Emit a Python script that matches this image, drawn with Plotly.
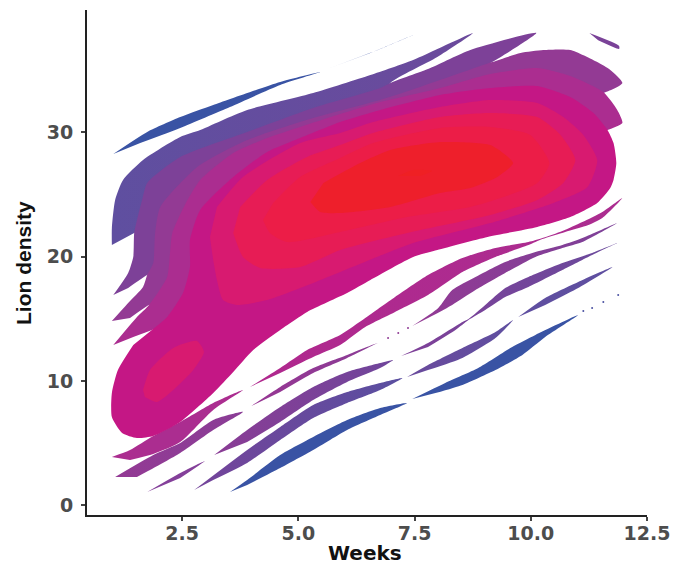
import plotly.graph_objects as go

# Filled density bands: (weeks, lion density) outlines
band_a = [(0.99,20.94),(0.99,22.31),(1.06,24.56),(1.23,26.17),(1.66,27.78),(2.46,29.63),(2.89,30.19),(3.38,31.0),(3.90,31.8),(5.32,33.16),(6.55,34.61),(7.47,35.82),(8.76,37.99),(7.99,36.06),(6.98,33.97),(6.76,32.6),(5.32,31.0),(3.90,28.98),(2.82,26.73),(2.03,24.0),(1.81,22.55),(1.47,21.91)]
band_b = [(1.02,16.92),(1.34,18.69),(1.45,19.98),(1.47,21.91),(1.53,22.95),(1.64,24.56),(1.75,25.93),(2.46,28.02),(3.90,30.03),(5.32,31.96),(6.76,33.56),(6.98,33.97),(7.84,35.17),(8.70,36.62),(10.12,37.99),(9.17,35.65),(8.05,33.56),(6.61,32.28),(5.04,30.43),(3.60,28.34),(2.89,26.17),(2.29,21.91),(2.24,20.3),(2.03,18.93),(1.75,18.53),(1.34,17.49)]
band_c = [(0.99,14.83),(1.34,16.28),(1.66,17.57),(1.75,18.53),(1.88,19.49),(1.92,21.91),(2.03,24.0),(2.82,27.2),(3.90,29.38),(5.32,31.15),(6.76,32.6),(7.62,33.65),(9.17,35.65),(9.78,36.38),(10.27,36.62),(10.85,36.62),(11.43,35.65),(11.71,35.01),(11.97,33.97),(11.56,33.16),(10.85,32.84),(10.14,33.73),(9.13,33.56),(8.05,33.0),(6.61,31.64),(5.04,29.54),(3.60,26.41),(2.89,23.76),(2.67,21.34),(2.67,19.17),(2.18,16.52),(1.79,16.12),(1.38,15.07)]
band_d = [(1.02,12.9),(1.53,15.15),(1.79,16.12),(2.18,18.37),(2.24,20.3),(2.29,21.91),(2.56,24.16),(2.89,26.17),(3.60,28.34),(4.33,29.54),(5.04,30.43),(5.90,31.47),(6.61,32.28),(8.05,33.56),(9.13,34.69),(10.14,35.17),(10.85,34.53),(11.56,33.24),(11.86,31.8),(11.97,30.75),(11.65,30.19),(11.13,29.79),(10.70,31.23),(10.14,32.36),(9.13,32.6),(8.05,32.04),(6.61,30.83),(5.04,29.14),(3.81,26.41),(3.25,24.0),(3.10,21.59),(3.17,19.74),(2.89,16.52),(2.18,14.51),(1.85,14.11),(1.45,13.54)]
band_e = [(1.85,14.11),(2.18,15.15),(2.52,17.08),(2.67,19.17),(2.67,21.34),(2.89,23.76),(3.60,26.41),(4.33,28.42),(5.04,29.54),(5.90,30.83),(6.61,31.64),(8.05,33.0),(9.13,33.56),(10.14,33.73),(10.85,32.84),(11.35,31.55),(11.65,30.19),(11.78,29.14),(11.84,27.53),(11.78,26.17),(11.71,25.52),(11.43,24.32),(10.85,23.19),(10.14,22.39),(9.07,21.59),(7.99,20.54),(7.47,19.98),(6.55,18.13),(6.05,17.08),(5.19,15.56),(4.55,13.95),(4.03,12.5),(3.60,10.73),(3.17,9.04),(2.46,6.71),(1.88,5.59),(1.53,5.42),(1.21,5.83),(0.99,7.11),(0.99,9.04),(1.12,10.89),(1.45,12.9)]
band_f = [(3.10,21.59),(3.17,19.74),(3.25,18.13),(3.38,16.52),(3.68,16.12),(4.33,16.52),(5.32,17.89),(5.90,18.77),(7.47,21.1),(9.13,22.71),(10.49,24.32),(11.22,25.6),(11.43,27.78),(11.13,29.79),(10.70,31.23),(10.14,32.36),(9.13,32.6),(8.05,32.04),(6.61,30.83),(5.90,29.95),(5.04,29.14),(3.81,26.41),(3.25,24.0)]
lobe_f = [(1.66,9.28),(1.81,10.89),(2.31,12.66),(2.82,13.22),(2.97,12.34),(2.74,10.89),(2.31,9.28),(1.96,8.32),(1.70,8.72)]
band_g = [(3.60,21.91),(3.81,19.98),(4.18,19.09),(5.04,19.17),(5.90,20.54),(7.34,21.91),(9.13,23.35),(10.14,24.56),(10.70,25.93),(10.96,27.78),(10.64,29.79),(10.14,31.23),(9.13,31.55),(8.05,31.23),(6.61,29.95),(5.90,28.98),(5.19,28.02),(4.33,26.17),(3.75,24.0)]
band_h = [(4.24,22.95),(4.39,21.91),(4.76,21.18),(5.90,21.99),(7.34,23.19),(8.70,24.0),(9.41,24.8),(10.14,25.93),(10.40,27.53),(9.99,29.79),(9.13,30.43),(8.05,30.35),(6.61,29.14),(5.90,27.94),(5.04,26.41),(4.46,24.32)]
band_i = [(5.26,24.4),(5.47,23.6),(5.90,23.51),(6.98,24.0),(8.05,25.12),(8.70,25.52),(9.28,26.41),(9.62,27.53),(9.13,28.98),(8.05,29.22),(6.98,28.58),(6.33,27.53),(5.54,25.93)]
core = [(7.15,26.49),(7.47,26.97),(7.88,26.89),(7.62,26.49)]

stripe_1a = [(0.99,3.90),(1.38,4.46),(1.88,5.59),(2.46,6.71),(3.17,8.24),(3.81,9.28),(3.17,7.68),(2.46,5.10),(1.88,4.14),(1.38,3.66)]
stripe_1b = [(3.96,9.53),(4.61,11.05),(5.19,12.5),(5.90,13.71),(6.44,15.07),(7.08,16.76),(7.79,18.53),(8.53,19.9),(9.24,20.7),(9.95,21.18),(10.25,21.5),(10.68,22.07),(11.11,22.79),(11.54,23.6),(11.97,24.72),(11.54,23.11),(11.24,22.55),(10.74,21.99),(10.25,21.42),(9.95,20.94),(9.24,19.98),(8.53,18.77),(7.79,16.92),(7.08,15.56),(6.44,14.35),(5.90,12.9),(5.32,11.94),(4.61,10.65)]
stripe_2a = [(1.06,2.29),(1.88,4.06),(2.46,5.02),(3.17,6.87),(3.81,7.52),(3.17,6.07),(2.46,4.22),(1.81,2.85),(1.53,2.29)]
stripe_2b = [(3.99,8.0),(4.61,9.53),(5.32,11.05),(6.05,12.1),(6.70,13.06),(6.05,11.86),(5.32,10.65),(4.61,9.12)]
stripe_2c = [(7.45,14.43),(8.01,15.88),(8.31,17.32),(8.81,18.37),(9.45,19.58),(10.10,20.38),(10.68,20.94),(11.11,21.5),(11.86,22.71),(11.11,21.18),(10.68,20.7),(10.10,19.98),(9.45,18.69),(8.81,17.32),(8.31,16.12),(7.79,15.07)]
stripe_3a = [(1.75,1.08),(2.46,2.61),(2.99,3.58),(2.46,2.21)]
stripe_3b = [(3.19,4.06),(3.90,6.07),(4.61,7.92),(5.32,9.53),(6.05,10.73),(6.76,11.45),(7.04,11.7),(6.76,11.05),(6.05,9.93),(5.32,8.48),(4.61,6.71),(3.90,5.1)]
stripe_3c = [(7.21,12.02),(7.79,13.06),(8.53,14.75),(8.66,14.99),(9.02,16.12),(9.45,17.48),(9.95,18.37),(10.68,19.49),(11.32,20.3),(11.86,21.1),(11.32,20.14),(10.68,18.93),(9.95,17.57),(9.45,16.76),(9.02,15.72),(8.66,14.91),(8.38,14.11),(7.79,12.74)]
stripe_4a = [(2.76,1.24),(3.90,4.46),(4.61,6.31),(5.32,8.08),(6.05,9.12),(6.76,9.85),(7.24,10.25),(6.76,9.28),(6.05,8.24),(5.32,7.03),(4.61,5.26),(3.90,3.42),(3.17,2.05)]
stripe_4b = [(7.34,10.33),(7.79,11.29),(8.53,12.66),(9.24,13.95),(9.62,14.91),(9.24,13.46),(8.53,11.86),(7.79,10.89)]
stripe_4c = [(9.73,15.15),(10.31,16.68),(11.02,17.97),(11.76,19.17),(11.02,17.48),(10.31,16.12)]
stripe_5a = [(3.53,1.08),(3.90,2.05),(4.61,4.06),(5.32,5.51),(6.05,6.87),(6.76,7.84),(7.34,8.24),(6.76,7.27),(6.05,6.07),(5.32,4.46),(4.61,3.01),(3.90,1.65)]
stripe_5b = [(7.45,8.56),(8.16,9.85),(8.87,11.05),(9.60,12.74),(10.10,13.71),(11.02,15.31),(10.31,13.54),(9.82,12.1),(9.24,10.89),(8.53,9.69),(7.95,9.04)]
ridge_1a = [(1.02,28.26),(1.75,30.03),(2.46,31.23),(3.17,32.2),(4.61,34.05),(5.47,34.85),(4.61,33.81),(3.53,32.04),(2.46,30.35),(1.60,29.14)]
ridge_1b = [(5.62,35.09),(6.76,36.70),(7.47,37.83),(6.55,36.38)]
ridge_2 = [(11.26,37.99),(11.90,36.95),(11.90,36.7),(11.45,37.4)]

# Isolated specks along the thin ends of the stripes
specks_blue_weeks = [11.13, 11.32, 11.56, 11.88]
specks_blue_density = [15.63, 15.88, 16.36, 16.92]
specks_purple_weeks = [6.93, 7.15, 7.36]
specks_purple_density = [13.46, 13.87, 14.27]

x_ticks = [2.5, 5.0, 7.5, 10.0, 12.5]
x_tick_labels = ["2.5", "5.0", "7.5", "10.0", "12.5"]
y_ticks = [0, 10, 20, 30]
y_tick_labels = ["0", "10", "20", "30"]

layers = [
    (ridge_1a, "#3953a4", None), (ridge_1b, "#3d52a3", None), (ridge_2, "#7a4298", None),
    (stripe_5a, "#3953a4", None), (stripe_5b, "#3953a4", None),
    (stripe_4a, "#74449a", "#5a4fa0"), (stripe_4b, "#6a4a9c", "#5f4fa0"), (stripe_4c, "#5f4fa0", None),
    (stripe_3a, "#84409a", None), (stripe_3b, "#8a3c95", "#6f469b"), (stripe_3c, "#7f4098", "#6a4a9c"),
    (stripe_2a, "#933a94", "#8a3d96"), (stripe_2b, "#973693", "#8a3d96"), (stripe_2c, "#933a94", "#7d4198"),
    (stripe_1a, "#ab2d90", None), (stripe_1b, "#b0288e", "#ab2d90"),
    (band_a, "#5f4fa0", "#6b4a9c"), (band_b, "#7d4198", None), (band_c, "#933a94", None),
    (band_d, "#ab2d90", None), (band_e, "#c41785", None), (band_f, "#d81a70", None),
    (lobe_f, "#d81a70", None), (band_g, "#e71c55", None), (band_h, "#ec1d47", None),
    (band_i, "#ee1f2b", None), (core, "#ef2024", None),
]

fig = go.Figure()
for outline, c1, c2 in layers:
    weeks = [p[0] for p in outline]
    density = [p[1] for p in outline]
    kw = {"fillcolor": c1}
    if c2:
        kw = {"fillgradient": dict(type="horizontal", colorscale=[[0, c1], [1, c2]])}
    fig.add_trace(go.Scatter(x=weeks, y=density, mode="lines", fill="toself",
                             line=dict(width=0, shape="spline", smoothing=0.6),
                             hoverinfo="skip", showlegend=False, **kw))
fig.add_trace(go.Scatter(x=specks_blue_weeks, y=specks_blue_density, mode="markers",
                         marker=dict(size=2, color="#4a52a2"), hoverinfo="skip", showlegend=False))
fig.add_trace(go.Scatter(x=specks_purple_weeks, y=specks_purple_density, mode="markers",
                         marker=dict(size=2, color="#8f3a94"), hoverinfo="skip", showlegend=False))

tick_font = dict(family="DejaVu Sans", size=19, color="#4d4d4d", weight="bold")
fig.update_layout(
    width=673, height=567, autosize=False,
    margin=dict(l=87, r=26, t=10, b=52),
    paper_bgcolor="white", plot_bgcolor="white",
    xaxis=dict(range=[0.455, 12.5], tickvals=x_ticks, ticktext=x_tick_labels, showgrid=False,
               zeroline=False, showline=True, linecolor="#222222", linewidth=2, ticks="outside",
               ticklen=4, tickcolor="#444444", tickwidth=1.5, tickfont=tick_font, automargin=False,
               ticklabelstandoff=-4),
    yaxis=dict(range=[-0.77, 39.84], tickvals=y_ticks, ticktext=y_tick_labels, showgrid=False,
               zeroline=False, showline=True, linecolor="#222222", linewidth=2, ticks="outside",
               ticklen=4, tickcolor="#444444", tickwidth=1.5, tickfont=tick_font, automargin=False,
               ticklabelstandoff=4),
    annotations=[
        dict(text="Weeks", xref="paper", yref="paper", x=0.496, y=-0.0752, showarrow=False,
             xanchor="center", yanchor="middle",
             font=dict(family="DejaVu Sans", size=20, color="#111111", weight="bold")),
        dict(text="Lion density", xref="paper", yref="paper", x=-0.1143, y=0.4990, showarrow=False,
             xanchor="center", yanchor="middle", textangle=-90,
             font=dict(family="Liberation Sans", size=21, color="#111111", weight="bold")),
    ],
)
fig.write_html("out.html", config={"displayModeBar": False},
               post_script="document.body.style.margin='0';document.body.style.overflow='hidden';")
